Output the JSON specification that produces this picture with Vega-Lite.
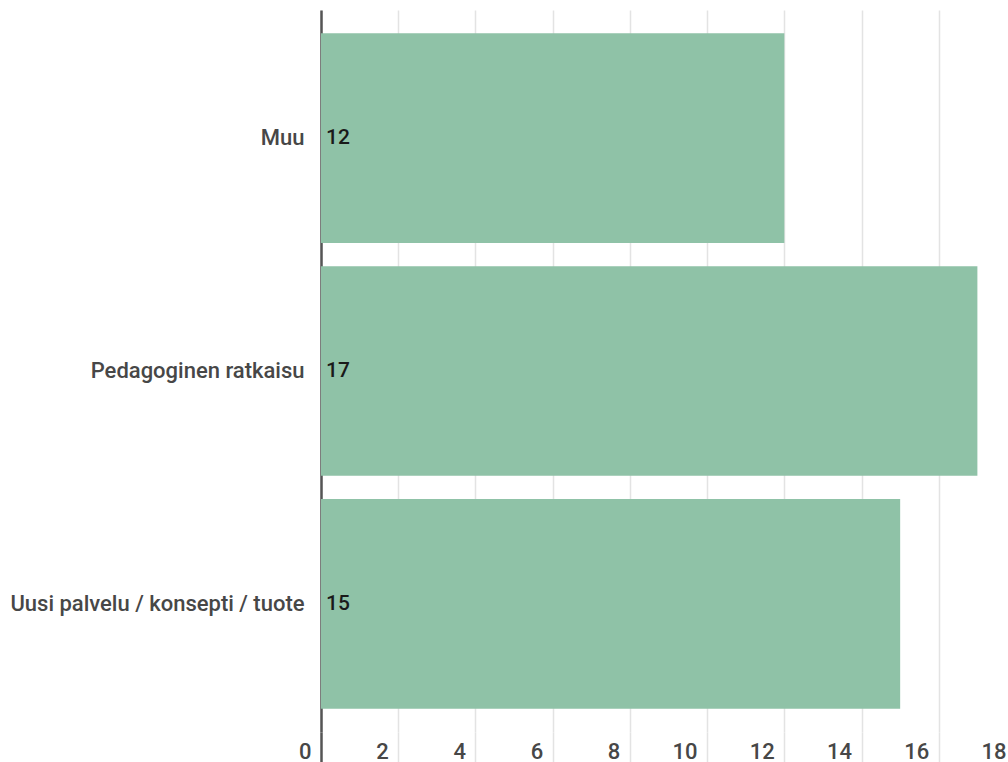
{
  "$schema": "https://vega.github.io/schema/vega-lite/v6.json",
  "width": 695,
  "height": 722,
  "padding": {"left": 0, "top": 10, "right": 0, "bottom": 0},
  "background": "white",
  "config": {"view": {"stroke": null}, "font": "Roboto"},
  "data": {
    "values": [
      {"category": "Muu", "count": 12},
      {"category": "Pedagoginen ratkaisu", "count": 17},
      {"category": "Uusi palvelu / konsepti / tuote", "count": 15}
    ]
  },
  "encoding": {
    "y": {
      "field": "category",
      "type": "nominal",
      "sort": null,
      "scale": {"paddingInner": 0.1, "paddingOuter": 0.1},
      "axis": {
        "title": null,
        "ticks": false,
        "grid": false,
        "domain": true,
        "domainColor": "#555555",
        "domainWidth": 2.5,
        "labelPadding": 17,
        "labelFont": "Roboto",
        "labelFontSize": 22,
        "labelFontWeight": 500,
        "labelColor": "#474747",
        "labelLimit": 400,
        "minExtent": 321,
        "maxExtent": 321
      }
    }
  },
  "layer": [
    {
      "mark": {"type": "bar", "color": "#8fc2a7"},
      "encoding": {
        "x": {
          "field": "count",
          "type": "quantitative",
          "scale": {"domain": [0, 18], "nice": false},
          "axis": {
            "title": null,
            "values": [0, 2, 4, 6, 8, 10, 12, 14, 16, 18],
            "domain": false,
            "grid": true,
            "gridColor": "#e3e3e3",
            "gridWidth": 1.5,
            "ticks": true,
            "tickSize": 32,
            "tickColor": {"condition": {"test": "datum.value === 0", "value": "#555555"}, "value": "#e3e3e3"},
            "tickWidth": {"condition": {"test": "datum.value === 0", "value": 2.5}, "value": 1.5},
            "labelAlign": "right",
            "labelOffset": -10,
            "labelPadding": -23,
            "labelFont": "Roboto",
            "labelFontSize": 22,
            "labelFontWeight": 500,
            "labelColor": "#474747",
            "labelFlush": false,
            "labelOverlap": false
          }
        }
      }
    },
    {
      "mark": {"type": "text", "align": "left", "dx": 5, "font": "Roboto", "fontSize": 21, "fontWeight": 500, "color": "#1a1a1a"},
      "encoding": {
        "x": {"datum": 0, "type": "quantitative"},
        "text": {"field": "count", "type": "quantitative"}
      }
    }
  ]
}
